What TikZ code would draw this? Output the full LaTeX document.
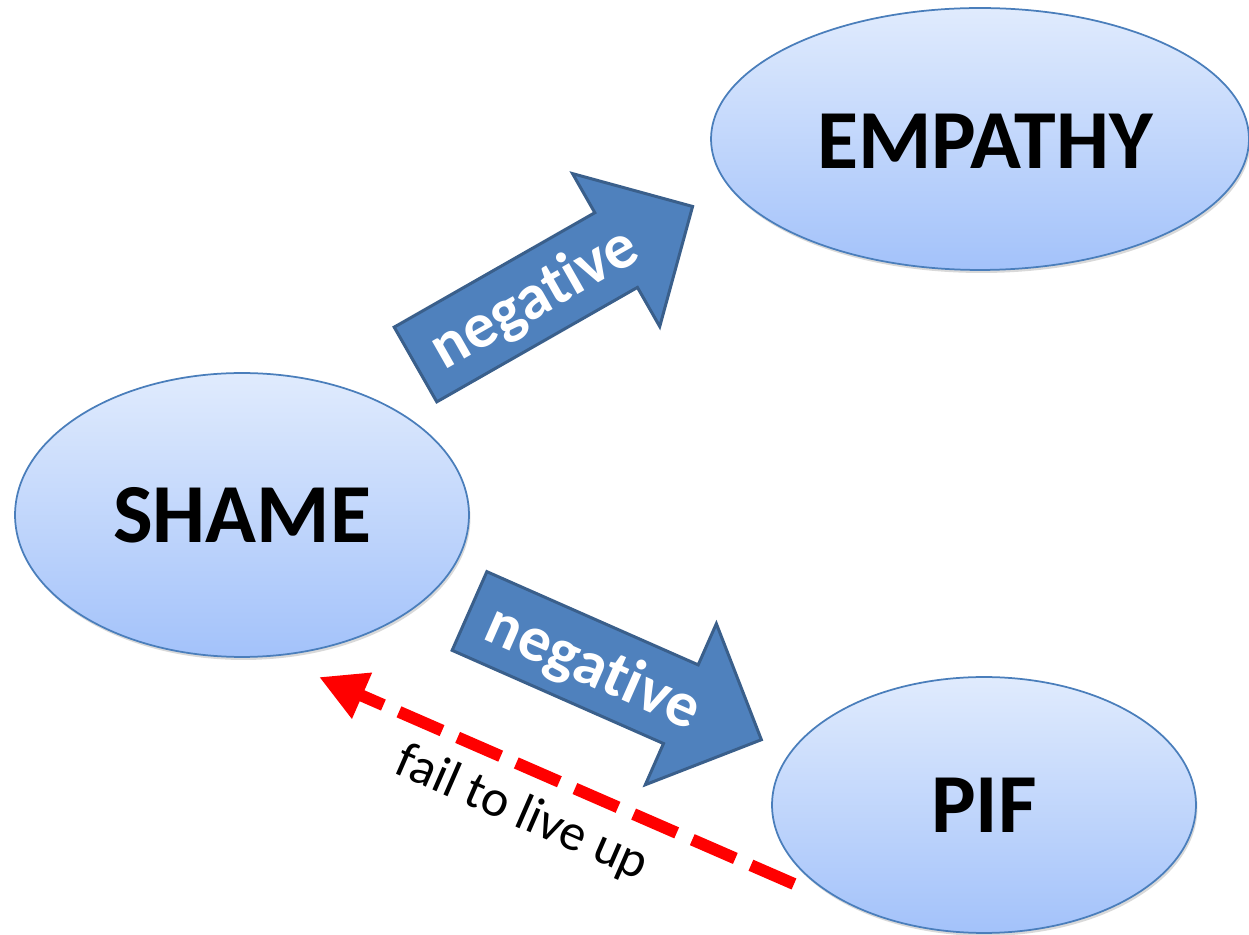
\documentclass[tikz,border=0pt]{standalone}
\usepackage{fontspec}
\setmainfont{Carlito}[Ligatures={NoCommon}, RawFeature={-liga;-clig;-dlig}]
\usetikzlibrary{shapes.geometric,arrows.meta,shadows}
\definecolor{elltop}{HTML}{E0EBFD}
\definecolor{ellbot}{HTML}{A3C2FA}
\definecolor{ellline}{HTML}{4A7EBB}
\definecolor{arrfill}{HTML}{4F81BD}
\definecolor{arrline}{HTML}{3A5F8B}
\definecolor{dashred}{HTML}{FF0000}
\begin{document}
\begin{tikzpicture}[x=0.02cm,y=-0.02cm,
  concept/.style={ellipse, draw=ellline, line width=0.035cm, top color=elltop, bottom color=ellbot,
    inner sep=0pt, outer sep=0pt, font=\fontsize{47.8pt}{50pt}\selectfont\bfseries,
    drop shadow={shadow xshift=0.03cm, shadow yshift=-0.06cm, opacity=0.15, fill=black}},
  blockarrow/.style={fill=arrfill, draw=arrline, line width=0.06cm, line join=miter},
  arrowlabel/.style={text=white, font=\fontsize{36.5pt}{40pt}\selectfont\bfseries, inner sep=0pt},
  failline/.style={draw=dashred, line width=0.24cm, dash pattern=on 0.94cm off 0.34cm,
    -{Triangle[length=0.94cm,width=0.94cm]}},
  faillabel/.style={font=\fontsize{29.5pt}{32pt}\selectfont, inner sep=0pt}]
\useasboundingbox[fill=white] (0,0) rectangle (1249,935);

\node[concept, minimum width=10.76cm, minimum height=5.24cm] (empathy) at (980,139) {};
\node[font=\fontsize{47.8pt}{50pt}\selectfont\bfseries, inner sep=0pt] (emptext) at (985,141) {EMPATHY};
\node[concept, minimum width=9.08cm, minimum height=5.68cm] (shame) at (242,515) {SHAME};
\node[concept, minimum width=8.48cm, minimum height=5.12cm] (pif) at (984,805) {PIF};

\begin{scope}[shift={(415.5,364.5)}, rotate=29.7]
  \draw[blockarrow] (0,-43) -- (231,-43) -- (231,-88) -- (319,0) -- (231,88) -- (231,43) -- (0,43) -- cycle;
  \node[arrowlabel, rotate=29.7] (neg1) at (136,3) {negat\kern0pt ive};
\end{scope}

\begin{scope}[shift={(469.5,611)}, rotate=-23.8]
  \draw[blockarrow] (0,-43) -- (231,-43) -- (231,-88) -- (319,0) -- (231,88) -- (231,43) -- (0,43) -- cycle;
  \node[arrowlabel, rotate=-23.8] (neg2) at (136,3) {negat\kern0pt ive};
\end{scope}

\coordinate (failstart) at (794,884);
\coordinate (failtip) at (319,677);
\draw[failline] (failstart) -- (failtip);
\node[faillabel, rotate=-23.6] (fail) at (522,814) {fail to live up};
\end{tikzpicture}
\end{document}
